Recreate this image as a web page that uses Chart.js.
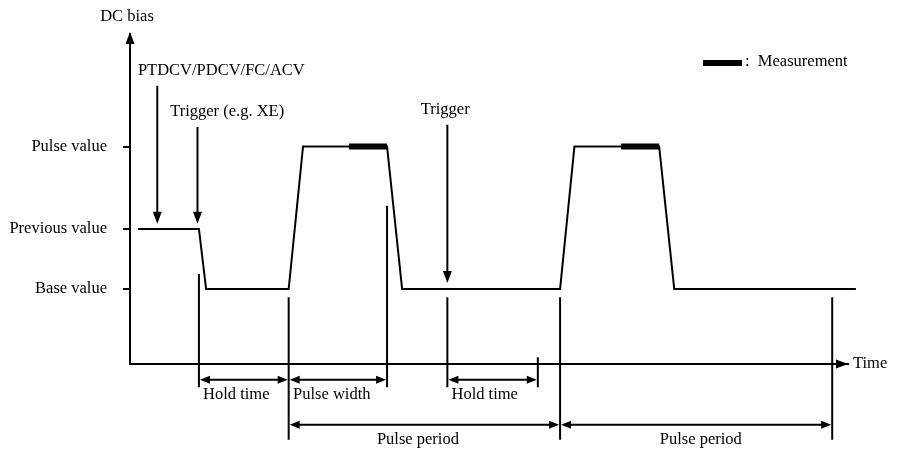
<!DOCTYPE html>
<html><head><meta charset="utf-8">
<script src="https://cdn.jsdelivr.net/npm/chart.js@4"></script>
<style>html,body{margin:0;padding:0;background:#fff}#wrap{width:903px;height:449px}</style>
</head><body><div id="wrap"><canvas id="c"></canvas></div>
<script>
// levels on the DC bias axis
const levelLabels = ['Base value', 'Previous value', 'Pulse value'];
const levelValues = [1.0, 1.8, 2.9];

// waveform corners (time, bias)
const waveTime = [1.1, 9.6, 10.6, 22.1, 24.1, 35.8, 37.9, 59.9, 61.9, 73.7, 75.8, 101.1];
const waveBias = [1.8, 1.8, 1.0, 1.0, 2.9, 2.9, 1.0, 1.0, 2.9, 2.9, 1.0, 1.0];

// measurement windows on the pulse tops
const measStart = [30.5, 68.4];
const measEnd = [35.8, 73.7];

// down arrows with their labels
const pointerLabels = ['PTDCV/PDCV/FC/ACV', 'Trigger (e.g. XE)', 'Trigger'];
const pointerTime = [3.8, 9.4, 44.2];
const pointerFrom = [3.71, 3.16, 3.19];
const pointerTo = [1.87, 1.87, 1.08];
const pointerLabelTime = [1.1, 5.6, 43.9];

// vertical guide lines
const guideTime = [9.6, 22.1, 35.8, 44.2, 56.8, 59.9, 97.8];
const guideTop = [1.2, 0.89, 2.11, 0.89, 0.09, 0.89, 0.89];
const guideBottom = [-0.31, -1.01, -0.31, -0.31, -0.31, -1.01, -1.01];

// interval spans
const spanLabels = ['Hold time', 'Pulse width', 'Hold time', 'Pulse period', 'Pulse period'];
const spanFrom = [9.6, 22.1, 44.2, 22.1, 59.9];
const spanTo = [22.1, 35.8, 56.8, 59.9, 97.8];
const spanLevel = [-0.21, -0.21, -0.21, -0.81, -0.81];
const spanLabelTime = [14.8, 28.1, 49.4, 40.1, 79.5];

const FONT = '"Liberation Serif", "Times New Roman", serif';

function head(ctx, x, y, dx, dy, len, half){
  // filled triangle with tip at x,y pointing along dx,dy
  const px = -dy, py = dx;
  ctx.beginPath();
  ctx.moveTo(x, y);
  ctx.lineTo(x - dx*len + px*half, y - dy*len + py*half);
  ctx.lineTo(x - dx*len - px*half, y - dy*len - py*half);
  ctx.closePath();
  ctx.fill();
}
function line(ctx, x1, y1, x2, y2, w){
  ctx.lineWidth = w;
  ctx.beginPath(); ctx.moveTo(x1, y1); ctx.lineTo(x2, y2); ctx.stroke();
}

const annotate = {
  id: 'annotate',
  afterDraw(chart){
    const ctx = chart.ctx, xs = chart.scales.x, ys = chart.scales.y;
    const X = v => xs.getPixelForValue(v), Y = v => ys.getPixelForValue(v);
    ctx.save();
    ctx.strokeStyle = '#000'; ctx.fillStyle = '#000';
    ctx.font = '16.5px ' + FONT;
    ctx.textBaseline = 'middle';

    // axis arrows and titles
    const a = chart.chartArea;
    head(ctx, a.left, a.top - 2, 0, -1, 12, 4.5);
    head(ctx, a.right, a.bottom, 1, 0, 12, 4.5);
    ctx.textAlign = 'center';
    ctx.fillText('DC bias', a.left - 3, 17);
    ctx.textAlign = 'left';
    ctx.fillText('Time', a.right + 5, a.bottom);

    // pointers
    pointerLabels.forEach((t, i) => {
      const x = X(pointerTime[i]);
      line(ctx, x, Y(pointerFrom[i]), x, Y(pointerTo[i]) - 8, 2);
      head(ctx, x, Y(pointerTo[i]), 0, 1, 12, 4.5);
      ctx.textAlign = i === 2 ? 'center' : 'left';
      ctx.fillText(t, X(pointerLabelTime[i]), Y(pointerFrom[i]) - 15);
    });

    // guides
    guideTime.forEach((t, i) => line(ctx, X(t), Y(guideTop[i]), X(t), Y(guideBottom[i]), 2));

    // spans
    ctx.textAlign = 'center';
    spanLabels.forEach((t, i) => {
      const x1 = X(spanFrom[i]) + 1, x2 = X(spanTo[i]) - 1, y = Y(spanLevel[i]);
      line(ctx, x1 + 6, y, x2 - 6, y, 2);
      head(ctx, x1, y, -1, 0, 10, 4);
      head(ctx, x2, y, 1, 0, 10, 4);
      ctx.fillText(t, X(spanLabelTime[i]), y + 15);
    });

    // legend
    ctx.fillRect(703, 60, 39, 6);
    ctx.textAlign = 'left';
    ctx.fillText(':  Measurement', 745, 62);
    ctx.restore();
  }
};

const datasets = [{
  data: waveTime.map((t, i) => ({x: t, y: waveBias[i]})),
  borderColor: '#000', borderWidth: 2, pointRadius: 0, tension: 0, clip: false
}];
measStart.forEach((s, i) => datasets.push({
  data: [{x: s, y: levelValues[2]}, {x: measEnd[i], y: levelValues[2]}],
  borderColor: '#000', borderWidth: 6, borderCapStyle: 'butt', pointRadius: 0, clip: false
}));

new Chart(document.getElementById('c'), {
  type: 'line',
  data: {datasets},
  options: {
    responsive: true, maintainAspectRatio: false, animation: false,
    layout: {padding: {top: 34, right: 55, left: 0, bottom: 0}},
    plugins: {legend: {display: false}, tooltip: {enabled: false}},
    scales: {
      x: {
        type: 'linear', min: 0, max: 100,
        ticks: {display: false}, grid: {display: false},
        border: {color: '#000', width: 2},
        afterFit: s => { s.height = 85; }
      },
      y: {
        type: 'linear', min: 0, max: 4.4,
        afterBuildTicks: s => { s.ticks = levelValues.map(v => ({value: v})); },
        ticks: {
          callback: (v, i) => levelLabels[i],
          color: '#000', padding: 16,
          font: {family: FONT, size: 16.5}
        },
        grid: {drawOnChartArea: false, tickLength: 7, color: '#000', lineWidth: 2},
        border: {color: '#000', width: 2},
        afterFit: s => { s.width = 130; }
      }
    }
  },
  plugins: [annotate]
});
</script>
</body></html>
